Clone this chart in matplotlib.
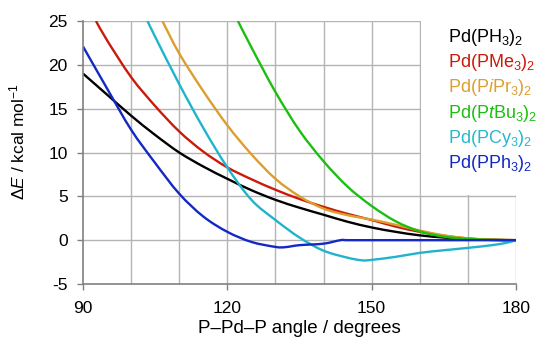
import matplotlib
matplotlib.use("Agg")
import matplotlib.pyplot as plt
from matplotlib.patches import Rectangle, PathPatch
from matplotlib.path import Path

plt.rcParams['font.family'] = ['Liberation Sans', 'DejaVu Sans']
plt.rcParams['mathtext.fontset'] = 'custom'
plt.rcParams['mathtext.rm'] = 'Liberation Sans'
plt.rcParams['mathtext.it'] = 'Liberation Sans:italic'
plt.rcParams['mathtext.bf'] = 'Liberation Sans:bold'
plt.rcParams['axes.unicode_minus'] = False

# ---- data ----
ph3_angle = [90, 95, 100, 105, 110, 115, 120, 125, 130, 135, 140, 145, 150, 155, 160, 165, 170, 175, 180]
ph3_energy = [19.0, 16.6, 14.2, 12.0, 10.0, 8.4, 7.0, 5.7, 4.6, 3.7, 2.9, 2.1, 1.45, 0.95, 0.55, 0.3, 0.12, 0.03, 0.0]

pme3_angle = [92.7, 95, 100, 105, 110, 115, 120, 125, 130, 135, 140, 145, 150, 155, 160, 165, 170, 175, 180]
pme3_energy = [25.0, 22.8, 18.6, 15.3, 12.4, 10.1, 8.3, 6.95, 5.75, 4.7, 3.8, 3.0, 2.3, 1.55, 0.95, 0.5, 0.2, 0.05, 0.0]

pipr3_angle = [106.5, 110, 115, 120, 125, 130, 135, 140, 145, 150, 155, 160, 165, 170, 175, 180]
pipr3_energy = [25.0, 21.3, 17.0, 13.1, 9.8, 7.0, 5.0, 3.6, 2.85, 2.35, 1.75, 1.1, 0.55, 0.2, 0.05, 0.0]

ptbu3_angle = [122.2, 125, 130, 135, 140, 145, 150, 155, 160, 165, 170, 175, 180]
ptbu3_energy = [25.0, 22.0, 16.9, 12.5, 9.0, 6.1, 3.9, 2.15, 1.0, 0.4, 0.15, 0.03, 0.0]

pcy3_angle = [103.4, 105, 110, 115, 120, 125, 130, 135, 140, 145, 148, 150, 155, 160, 165, 170, 175, 178, 180]
pcy3_energy = [25.0, 23.2, 17.8, 12.8, 8.3, 4.6, 2.3, 0.3, -1.2, -2.0, -2.3, -2.25, -1.9, -1.45, -1.15, -0.88, -0.57, -0.3, 0.0]

pph3_angle = [90, 95, 100, 105, 110, 115, 120, 125, 130, 132, 135, 140, 143.5, 145, 150, 160, 170, 180]
pph3_energy = [22.1, 17.3, 12.6, 8.8, 5.3, 2.7, 0.95, -0.2, -0.77, -0.8, -0.57, -0.4, 0.0, 0.0, 0.0, 0.0, 0.0, 0.0]

labels = [r'Pd(PH$_3$)$_2$', r'Pd(PMe$_3$)$_2$', r'Pd(P$\mathit{i}$Pr$_3$)$_2$',
          r'Pd(P$\mathit{t}$Bu$_3$)$_2$', r'Pd(PCy$_3$)$_2$', r'Pd(PPh$_3$)$_2$']
x_ticks = [90, 120, 150, 180]
y_ticks = [-5, 0, 5, 10, 15, 20, 25]

series = [(ph3_angle, ph3_energy), (pme3_angle, pme3_energy), (pipr3_angle, pipr3_energy),
          (ptbu3_angle, ptbu3_energy), (pcy3_angle, pcy3_energy), (pph3_angle, pph3_energy)]
line_colors = ['#000000', '#cc1a0a', '#dc9e2c', '#1cbf10', '#20b4cc', '#1428c4']
text_colors = ['#000000', '#cc1a0a', '#dca030', '#1cbf10', '#28b8cc', '#1428c4']


def smooth_path(xs, ys):
    """Smoothed (Catmull-Rom style Bezier) path through the given points."""
    pts = list(zip(xs, ys))
    n = len(pts)
    verts = [pts[0]]
    codes = [Path.MOVETO]
    for i in range(n - 1):
        p0 = pts[i - 1] if i > 0 else pts[i]
        p1 = pts[i]
        p2 = pts[i + 1]
        p3 = pts[i + 2] if i + 2 < n else pts[i + 1]
        c1 = (p1[0] + (p2[0] - p0[0]) / 6.0, p1[1] + (p2[1] - p0[1]) / 6.0)
        c2 = (p2[0] - (p3[0] - p1[0]) / 6.0, p2[1] - (p3[1] - p1[1]) / 6.0)
        verts += [c1, c2, p2]
        codes += [Path.CURVE4, Path.CURVE4, Path.CURVE4]
    return Path(verts, codes)


fig = plt.figure(figsize=(5.4, 3.39), dpi=100)
ax = fig.add_axes([83/540, 55/339, 433/540, 263/339])

# grid lines
for gx in range(100, 181, 10):
    ax.axvline(gx, color='#b4b4b4', lw=1.0, zorder=1)
for gy in range(0, 26, 5):
    ax.axhline(gy, color='#b4b4b4', lw=1.0, zorder=1)

for (xs, ys), c in zip(series, line_colors):
    ax.add_patch(PathPatch(smooth_path(xs, ys), facecolor='none', edgecolor=c,
                           lw=1.7, zorder=2))

ax.set_xlim(90, 180)
ax.set_ylim(-5, 25)
ax.set_xticks(x_ticks)
ax.set_yticks(y_ticks)
ax.set_yticklabels([str(v) for v in y_ticks])
ax.tick_params(axis='both', direction='out', length=4, width=1, color='#808080', labelsize=12.5)
ax.tick_params(axis='x', pad=8)
ax.tick_params(axis='y', pad=7)
for s in ['top', 'right']:
    ax.spines[s].set_visible(False)
for s in ['left', 'bottom']:
    ax.spines[s].set_color('#808080')
    ax.spines[s].set_linewidth(1.2)

ax.set_xlabel('P\u2013Pd\u2013P angle / degrees', fontsize=13.5, labelpad=3)
ax.set_ylabel(r'$\mathit{\Delta E}$ / kcal mol$^{-1}$', fontsize=12.5)
ax.yaxis.set_label_coords(-0.128, 0.54)

# white legend panel covering the top-right of the grid
ax.add_patch(Rectangle((160.25, 5.15), 40, 30, facecolor='white', edgecolor='none',
                       zorder=3, clip_on=False))

for i, (lab, c) in enumerate(zip(labels, text_colors)):
    fig.text(448/540, (339 - 42 - i*25.2)/339, lab, color=c, fontsize=13,
             ha='left', va='baseline')

fig.savefig('out.png', dpi=100)
